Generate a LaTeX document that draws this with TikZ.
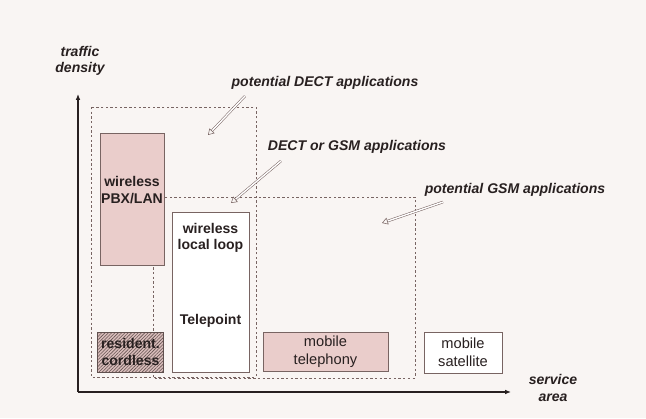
\documentclass[tikz,border=0pt]{standalone}
\usepackage{fontspec}
\setmainfont{Liberation Sans}
\usepackage{tikz}
\usetikzlibrary{positioning, arrows.meta, patterns.meta}
\definecolor{paper}{RGB}{249,245,243}
\definecolor{rose}{RGB}{234,205,203}
\definecolor{ink}{RGB}{40,32,32}
\definecolor{rim}{RGB}{120,100,98}
\tikzset {
    x=0.03cm, y=-0.03cm,
    every node/.style={text=ink, font=\fontsize{12}{14}\selectfont\bfseries},
    box/.style={draw=rim, line width=0.5pt, fill=white, minimum width=#1},
    pinkbox/.style={box=#1, fill=rose},
    zone/.style={draw=rim, line width=0.5pt, dash pattern=on 2pt off 2pt},
    axis/.style={draw=ink, line width=1.3pt, -{Latex[length=5pt, width=4pt]}},
    note/.style={font=\fontsize{12}{14}\selectfont\bfseries\itshape},
    hollow/.style={draw=rim, double=white, double distance=1.2pt, line width=0.45pt,
        -{Triangle[open, length=5pt, width=6pt]}}
}
\begin{document}
\begin{tikzpicture}
    \fill[paper] (0,0) rectangle (646,418);

    % application zones
    \draw[zone] (153,197) rectangle (415,378);
    \draw[zone] (91,107) rectangle (256,377);

    % axes
    \coordinate (o) at (78,392);
    \draw[axis] (o) -- (78,94);
    \draw[axis] (o) -- (511,392);
    \node[note, align=center] (ylab) at (80,61) {traffic\\density};
    \node[note, align=center] (xlab) at (553,388) {service\\area};

    % systems
    \node[pinkbox=1.92cm, minimum height=3.96cm] (pbx) at (132,199) {};
    \node[align=center] (pbxt) at (132,190) {wireless\\PBX/LAN};
    \node[box=1.95cm, minimum height=1.2cm, draw=rim!70!ink,
        preaction={fill=rose!85!rim},
        pattern={Lines[angle=45, distance=2pt, line width=0.5pt]}, pattern color=rim!85!black,
        align=center] (res) at (130.5,352) {resident.\\cordless};
    \node[box=2.31cm, minimum height=4.8cm] (loop) at (210.5,292) {};
    \node[align=center] (loopt) at (210.5,238) {wireless\\local loop};
    \node (tele) at (210.5,321) {Telepoint};
    \node[pinkbox=3.75cm, minimum height=1.17cm, align=center, font=\fontsize{12.5}{15}\selectfont]
        (mob) at (325.5,351.5) {mobile\\telephony};
    \node[box=2.34cm, minimum height=1.23cm, align=center, font=\fontsize{12.5}{15}\selectfont]
        (sat) at (463,352.5) {mobile\\satellite};

    % labels and pointers
    \node[note] (dect) at (325,83) {potential DECT applications};
    \node[note] (both) at (357,147) {DECT or GSM applications};
    \node[note] (gsm) at (515,190) {potential GSM applications};
    \coordinate (t1) at (245,96);  \coordinate (h1) at (208,135);
    \coordinate (t2) at (281,161); \coordinate (h2) at (231,203);
    \coordinate (t3) at (443,202); \coordinate (h3) at (382,223);
    \draw[hollow] (t1) -- (h1);
    \draw[hollow] (t2) -- (h2);
    \draw[hollow] (t3) -- (h3);
\end{tikzpicture}
\end{document}
